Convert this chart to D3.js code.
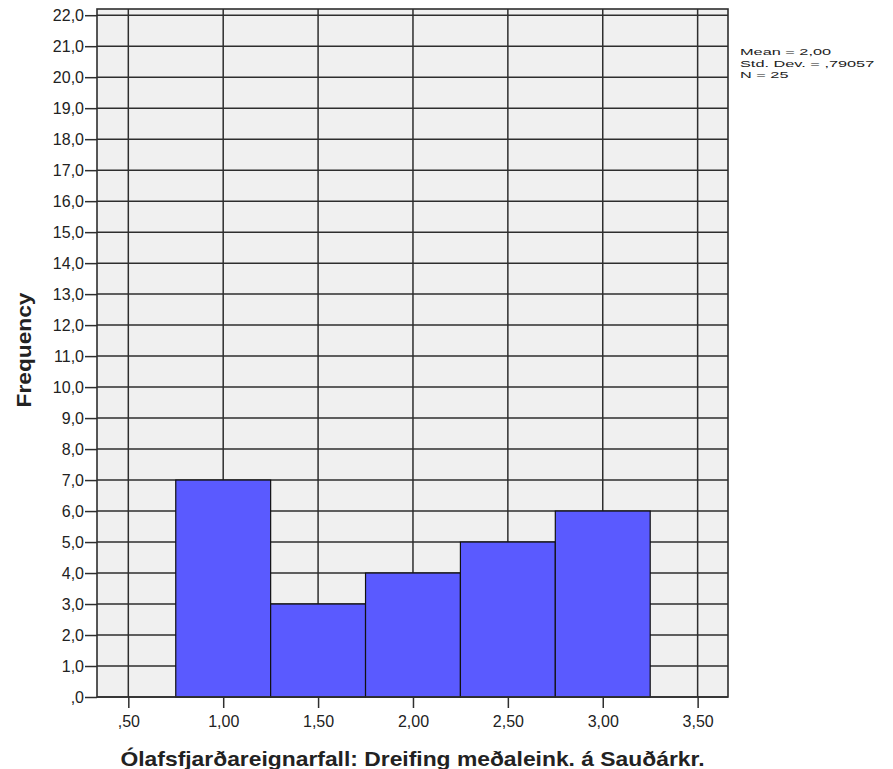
<!DOCTYPE html>
<html>
<head>
<meta charset="utf-8">
<script src="https://cdn.jsdelivr.net/npm/d3@7"></script>
<style>
  body { margin: 0; background: #fff; }
  text { font-family: "Liberation Sans", Arial, sans-serif; fill: #222; }
</style>
</head>
<body>
<svg id="chart"></svg>
<script>
// Dữ liệu histogram
const binStarts = [0.75, 1.25, 1.75, 2.25, 2.75];
const binWidth = 0.5;
const counts = [7, 3, 4, 5, 6];
const xTicks = [0.5, 1.0, 1.5, 2.0, 2.5, 3.0, 3.5];
const yTicks = d3.range(0, 23);
const statsLines = ["Mean = 2,00", "Std. Dev. = ,79057", "N = 25"];
const xTitle = "Ólafsfjarðareignarfall: Dreifing meðaleink. á Sauðárkr.";
const yTitle = "Frequency";

const width = 893, height = 769;
const margin = { top: 9, right: 165, bottom: 72, left: 97 };

const svg = d3.select("#chart").attr("width", width).attr("height", height);

const x = d3.scaleLinear().domain([0.335, 3.66]).range([margin.left, width - margin.right]);
const y = d3.scaleLinear().domain([0, 22.2]).range([height - margin.bottom, margin.top]);

// định dạng kiểu SPSS: dấu phẩy thập phân, bỏ số 0 đầu
const spss = f => v => d3.format(f)(v).replace(".", ",").replace(/^0,/, ",");

// nền
svg.append("rect")
  .attr("x", margin.left).attr("y", margin.top)
  .attr("width", x.range()[1] - margin.left)
  .attr("height", y(0) - margin.top)
  .attr("fill", "#f0f0f0");

// lưới
const grid = svg.append("g").attr("stroke", "#2e2e2e").attr("stroke-width", 1.5);
grid.selectAll(".gy").data(yTicks).enter().append("line")
  .attr("x1", margin.left).attr("x2", x.range()[1])
  .attr("y1", d => y(d)).attr("y2", d => y(d));
grid.selectAll(".gx").data(xTicks).enter().append("line")
  .attr("y1", margin.top).attr("y2", y(0))
  .attr("x1", d => x(d)).attr("x2", d => x(d));

// cột
svg.selectAll(".bar").data(counts).enter().append("rect")
  .attr("x", (d, i) => x(binStarts[i]))
  .attr("width", (d, i) => x(binStarts[i] + binWidth) - x(binStarts[i]))
  .attr("y", d => y(d))
  .attr("height", d => y(0) - y(d))
  .attr("fill", "#5a5aff")
  .attr("stroke", "#111")
  .attr("stroke-width", 1.2);

// khung
svg.append("rect")
  .attr("x", margin.left).attr("y", margin.top)
  .attr("width", x.range()[1] - margin.left)
  .attr("height", y(0) - margin.top)
  .attr("fill", "none").attr("stroke", "#2e2e2e").attr("stroke-width", 1.6);

// trục Y
const yAxis = svg.append("g")
  .attr("transform", `translate(${margin.left},0)`)
  .call(d3.axisLeft(y).tickValues(yTicks).tickFormat(spss(".1f")).tickSize(12).tickPadding(1));
yAxis.select(".domain").remove();
yAxis.selectAll("line").attr("stroke", "#2e2e2e").attr("stroke-width", 1.5);
yAxis.selectAll("text").style("font-size", "16px").attr("fill", "#222")
  .attr("font-family", "Liberation Sans, Arial, sans-serif");

// trục X
const xAxis = svg.append("g")
  .attr("transform", `translate(0,${y(0)})`)
  .call(d3.axisBottom(x).tickValues(xTicks).tickFormat(spss(".2f")).tickSize(11).tickPadding(8));
xAxis.select(".domain").remove();
xAxis.selectAll("line").attr("stroke", "#2e2e2e").attr("stroke-width", 1.5);
xAxis.selectAll("text").style("font-size", "16px").attr("fill", "#222")
  .attr("font-family", "Liberation Sans, Arial, sans-serif");

// nhãn trục
svg.append("text")
  .attr("x", (margin.left + x.range()[1]) / 2)
  .attr("y", 766)
  .attr("text-anchor", "middle")
  .attr("textLength", 584).attr("lengthAdjust", "spacingAndGlyphs")
  .style("font-size", "21px").style("font-weight", "bold")
  .text(xTitle);

svg.append("text")
  .attr("transform", "rotate(-90)")
  .attr("x", -350).attr("y", 31)
  .attr("text-anchor", "middle")
  .attr("textLength", 115).attr("lengthAdjust", "spacingAndGlyphs")
  .style("font-size", "20px").style("font-weight", "bold")
  .text(yTitle);

// thống kê (chữ kéo giãn ngang như SPSS)
svg.append("g").selectAll("text").data(statsLines).enter().append("text")
  .attr("transform", (d, i) => `translate(740,${55 + i * 11.7}) scale(1.36,0.83)`)
  .style("font-size", "12px")
  .text(d => d);
</script>
</body>
</html>
